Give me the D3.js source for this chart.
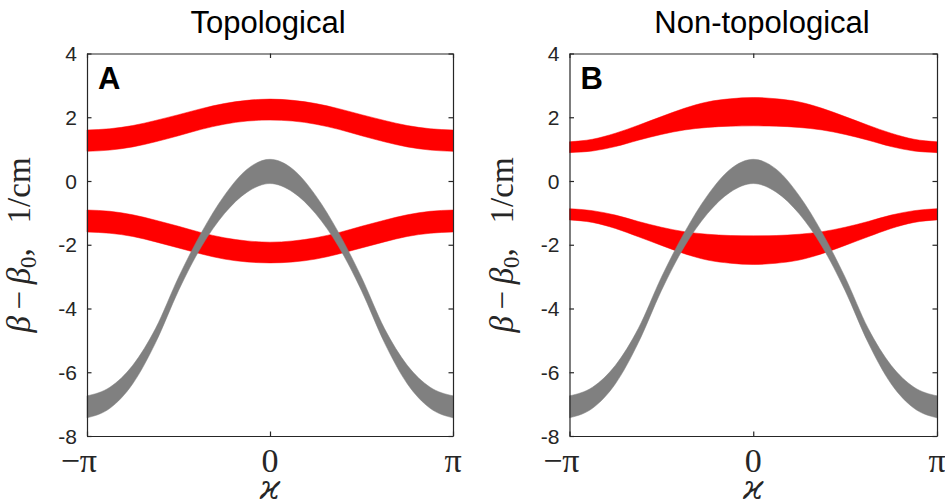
<!DOCTYPE html>
<html>
<head>
<meta charset="utf-8">
<script src="https://d3js.org/d3.v7.min.js"></script>
<style>
  body { margin: 0; background: #fff; }
  svg { display: block; }
</style>
</head>
<body>
<svg id="chart"></svg>
<script>

var screen = {width:945, height:501}

// kappa in units of pi, sampled every pi/8
var kappa = [-1, -0.875, -0.75, -0.625, -0.5, -0.375, -0.25, -0.125, 0, 0.125, 0.25, 0.375, 0.5, 0.625, 0.75, 0.875, 1]

// gray band (same in both panels)
var grayTop    = [-6.74, -6.47, -5.78, -4.62, -3.02, -1.62, -0.46, 0.37, 0.68, 0.37, -0.46, -1.62, -3.02, -4.62, -5.78, -6.47, -6.74]
var grayBottom = [-7.43, -7.13, -6.36, -5.07, -3.44, -2.06, -1.03, -0.35, -0.08, -0.35, -1.03, -2.06, -3.44, -5.07, -6.36, -7.13, -7.43]

// panel A (topological) red bands
var topoUpperTop    = [1.60, 1.64, 1.74, 1.90, 2.08, 2.27, 2.43, 2.53, 2.57, 2.53, 2.43, 2.27, 2.08, 1.90, 1.74, 1.64, 1.60]
var topoUpperBottom = [0.93, 0.97, 1.07, 1.23, 1.42, 1.62, 1.78, 1.88, 1.91, 1.88, 1.78, 1.62, 1.42, 1.23, 1.07, 0.97, 0.93]
var topoLowerTop    = [-0.91, -0.95, -1.06, -1.23, -1.42, -1.62, -1.78, -1.88, -1.92, -1.88, -1.78, -1.62, -1.42, -1.23, -1.06, -0.95, -0.91]
var topoLowerBottom = [-1.60, -1.64, -1.74, -1.91, -2.10, -2.29, -2.45, -2.54, -2.57, -2.54, -2.45, -2.29, -2.10, -1.91, -1.74, -1.64, -1.60]

// panel B (non-topological) red bands
var trivUpperTop    = [1.23, 1.31, 1.50, 1.75, 2.02, 2.28, 2.48, 2.58, 2.62, 2.58, 2.48, 2.28, 2.02, 1.75, 1.50, 1.31, 1.23]
var trivUpperBottom = [0.89, 0.94, 1.08, 1.28, 1.46, 1.60, 1.68, 1.72, 1.73, 1.72, 1.68, 1.60, 1.46, 1.28, 1.08, 0.94, 0.89]
var trivLowerTop    = [-0.87, -0.93, -1.07, -1.27, -1.45, -1.59, -1.67, -1.71, -1.72, -1.71, -1.67, -1.59, -1.45, -1.27, -1.07, -0.93, -0.87]
var trivLowerBottom = [-1.22, -1.30, -1.49, -1.75, -2.02, -2.28, -2.48, -2.58, -2.62, -2.58, -2.48, -2.28, -2.02, -1.75, -1.49, -1.30, -1.22]

var yTicks = [4, 2, 0, -2, -4, -6, -8]
var xTicks = [-1, 0, 1]
var xTickLabels = ["\u2212\u03c0", "0", "\u03c0"]

var titles = ["Topological", "Non-topological"]
var letters = ["A", "B"]

var axisColor = "#262626"

var svg = d3.select("#chart")
    .attr("width", screen.width)
    .attr("height", screen.height)

var makeBand = function(top, bottom)
{
    return kappa.map(function(k, i){ return {k:k, hi:top[i], lo:bottom[i]} })
}

var drawPanel = function(p)
{
    var xScale = d3.scaleLinear().domain([-1, 1]).range([p.left, p.right])
    var yScale = d3.scaleLinear().domain([-8, 4]).range([436, 53.5])

    var g = svg.append("g")

    var area = d3.area()
        .x(function(d){ return xScale(d.k) })
        .y0(function(d){ return yScale(d.lo) })
        .y1(function(d){ return yScale(d.hi) })
        .curve(d3.curveMonotoneX)

    // red bands first, gray goes over them
    p.red.forEach(function(band)
    {
        g.append("path")
         .datum(band)
         .attr("d", area)
         .attr("fill", "#ff0000")
         .attr("stroke", "#ff0000")
         .attr("stroke-width", 0.5)
    })

    g.append("path")
     .datum(makeBand(grayTop, grayBottom))
     .attr("d", area)
     .attr("fill", "#808080")
     .attr("stroke", "#808080")
     .attr("stroke-width", 0.5)

    // axes, ticks inward on all four sides
    var left = d3.axisLeft(yScale).tickValues(yTicks).tickSizeInner(-4.5).tickSizeOuter(0).tickFormat("")
    var right = d3.axisRight(yScale).tickValues(yTicks).tickSizeInner(-4.5).tickSizeOuter(0).tickFormat("")
    var bottom = d3.axisBottom(xScale).tickValues(xTicks).tickSizeInner(-4.5).tickSizeOuter(0).tickFormat("")
    var top = d3.axisTop(xScale).tickValues(xTicks).tickSizeInner(-4.5).tickSizeOuter(0).tickFormat("")

    var axes = [
        [left, "translate(" + p.left + ",0)"],
        [right, "translate(" + p.right + ",0)"],
        [bottom, "translate(0,436)"],
        [top, "translate(0,53.5)"]
    ]
    axes.forEach(function(a)
    {
        var ag = g.append("g").attr("transform", a[1]).call(a[0])
        ag.selectAll("path,line").attr("stroke", axisColor).attr("stroke-width", 1.2)
    })

    // y tick labels
    g.selectAll(".ylab")
     .data(yTicks)
     .enter()
     .append("text")
     .attr("x", p.left - 10)
     .attr("y", function(d){ return yScale(d) })
     .attr("dy", "0.36em")
     .attr("text-anchor", "end")
     .attr("font-family", "Arial, 'Liberation Sans', sans-serif")
     .attr("font-size", 21)
     .attr("fill", axisColor)
     .text(function(d){ return d })

    // x tick labels
    g.selectAll(".xlab")
     .data(xTicks)
     .enter()
     .append("text")
     .attr("x", function(d){ return d < 0 ? xScale(d) + 10 : xScale(d) })
     .attr("y", 472)
     .attr("text-anchor", function(d){ return d < 0 ? "end" : "middle" })
     .attr("font-family", "'Liberation Serif', 'DejaVu Serif', serif")
     .attr("font-size", 34)
     .attr("fill", axisColor)
     .text(function(d, i){ return xTickLabels[i] })

    // x label (varkappa)
    g.append("text")
     .attr("x", xScale(0))
     .attr("y", 499)
     .attr("text-anchor", "middle")
     .attr("font-family", "'DejaVu Serif', 'Liberation Serif', serif")
     .attr("font-style", "italic")
     .attr("font-size", 33)
     .attr("fill", axisColor)
     .text("\u03f0")

    // y label
    var yl = g.append("text")
     .attr("transform", "translate(" + (p.left - 57) + ",245) rotate(-90)")
     .attr("text-anchor", "middle")
     .attr("font-family", "'Liberation Serif', 'DejaVu Serif', serif")
     .attr("font-size", 33)
     .attr("fill", axisColor)
    yl.append("tspan").attr("font-style", "italic").text("\u03b2")
    yl.append("tspan").text("\u2009\u2212\u2009")
    yl.append("tspan").attr("font-style", "italic").text("\u03b2")
    yl.append("tspan").attr("font-size", 23).attr("dy", 6).text("0")
    yl.append("tspan").attr("dy", -6).text(",\u2002 1/cm")

    // title
    g.append("text")
     .attr("x", p.titleX)
     .attr("y", 33)
     .attr("text-anchor", "middle")
     .attr("font-family", "Arial, 'Liberation Sans', sans-serif")
     .attr("font-size", 31)
     .attr("fill", "#000")
     .text(p.title)

    // panel letter
    g.append("text")
     .attr("x", p.left + 11)
     .attr("y", 89)
     .attr("font-family", "Arial, 'Liberation Sans', sans-serif")
     .attr("font-weight", "bold")
     .attr("font-size", 31)
     .attr("fill", "#000")
     .text(p.letter)
}

drawPanel({
    left: 87, right: 453, title: titles[0], titleX: 268, letter: letters[0],
    red: [makeBand(topoUpperTop, topoUpperBottom), makeBand(topoLowerTop, topoLowerBottom)]
})

drawPanel({
    left: 569.5, right: 937, title: titles[1], titleX: 762, letter: letters[1],
    red: [makeBand(trivUpperTop, trivUpperBottom), makeBand(trivLowerTop, trivLowerBottom)]
})

</script>
</body>
</html>
